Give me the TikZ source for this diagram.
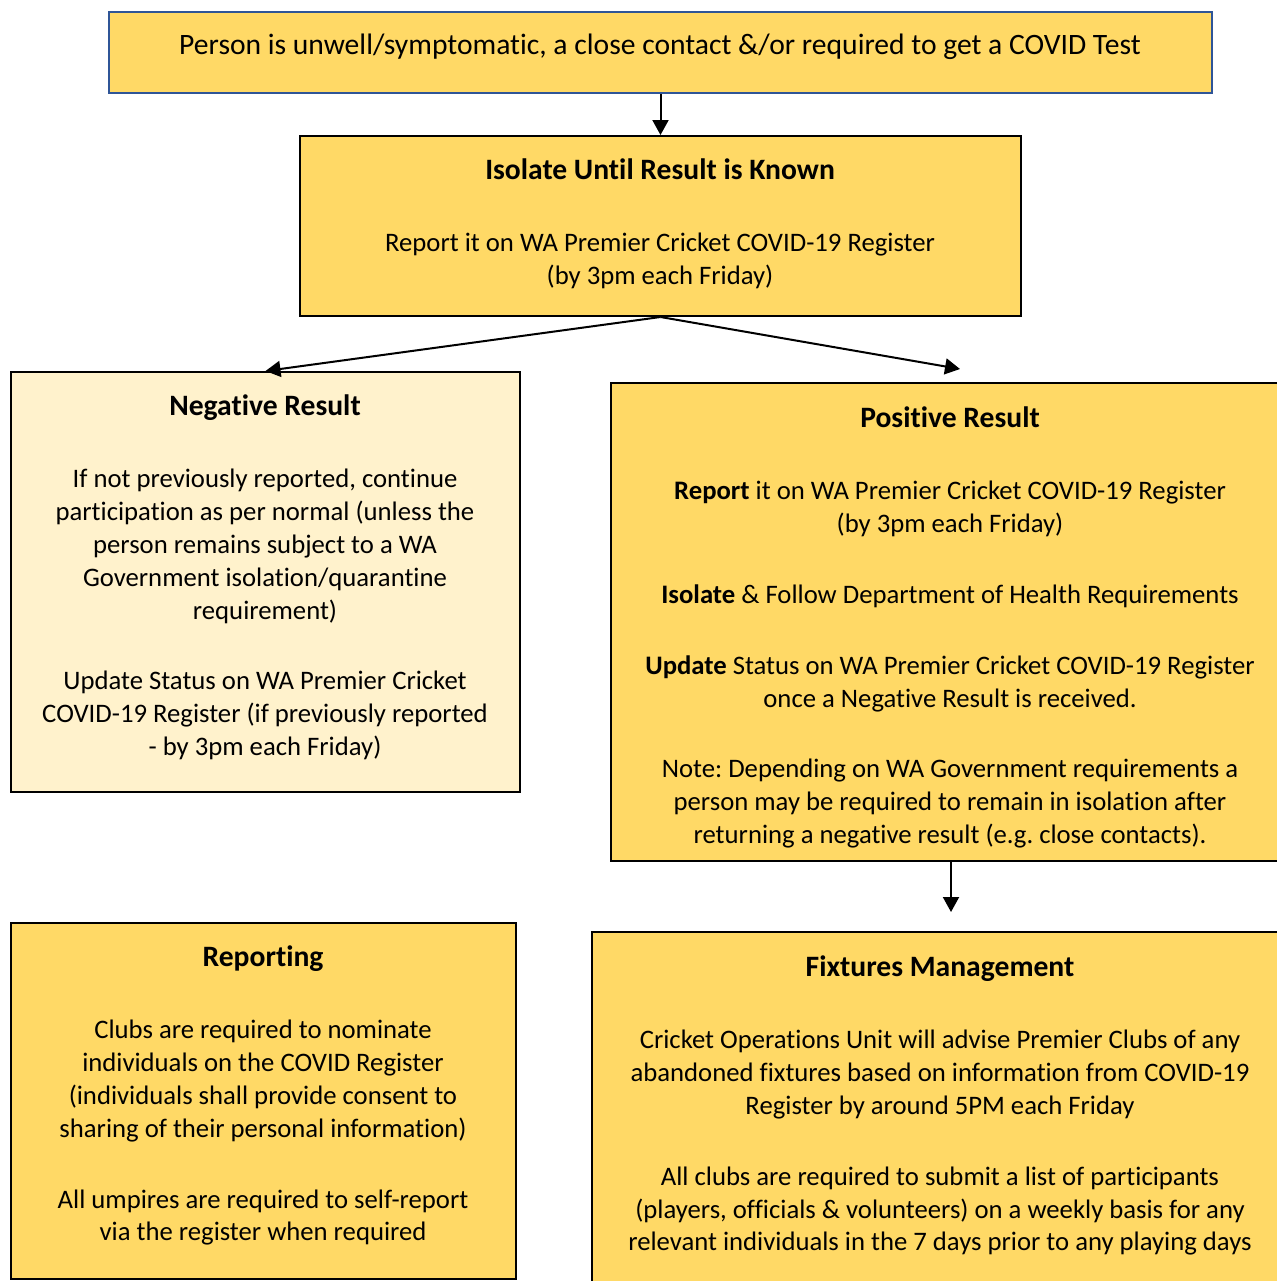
\documentclass[tikz,border=0pt]{standalone}
\usepackage{fontspec}
\setmainfont{Carlito}[Ligatures=NoCommon]
\usetikzlibrary{arrows.meta}
\definecolor{gold}{HTML}{FFD966}
\definecolor{paleGold}{HTML}{FFF2CC}
\definecolor{edgeBlue}{HTML}{2F5597}
\newcommand{\boxTitle}[1]{{\fontsize{14.8pt}{16.4pt}\selectfont\bfseries #1}}

\begin{document}
\frenchspacing
\begin{tikzpicture}[x=0.5pt,y=-0.5pt,
  box/.style={draw,line width=1pt,fill=gold,inner sep=0pt},
  txt/.style={anchor=north,align=center,inner sep=0pt,font=\fontsize{13.35pt}{16.4pt}\selectfont},
  arr/.style={-{Triangle[length=7.5pt,width=8pt]},line width=1pt}]
\clip (0,0) rectangle (1277,1281);
\fill[white] (0,0) rectangle (1277,1281);
% boxes
\draw (660.5,52.5) node[box,draw=edgeBlue,minimum width=551.5pt,minimum height=40.5pt](test) {};
\draw (660.5,226) node[box,minimum width=360.5pt,minimum height=90pt](isolate) {};
\draw (265.5,582) node[box,fill=paleGold,minimum width=254.5pt,minimum height=210pt](negative) {};
\draw (955.5,622) node[box,minimum width=344.5pt,minimum height=239pt](positive) {};
\draw (263.5,1101) node[box,minimum width=252.5pt,minimum height=178pt](reporting) {};
\draw (946,1116) node[box,minimum width=354pt,minimum height=184pt](fixtures) {};
% texts
\node[txt,font=\fontsize{14.8pt}{16.4pt}\selectfont] (testTxt) at (660,34) {Person is unwell/symptomatic, a close contact \&/or required to get a COVID Test};
\node[txt] (isolateTxt) at (660,158) {\boxTitle{Isolate Until Result is Known}\\[20pt]
Report it on WA Premier Cricket COVID-19 Register\\
(by 3pm each Friday)};
\node[txt] (negativeTxt) at (265,394) {\boxTitle{Negative Result}\\[20pt]
If not previously reported, continue\\
participation as per normal (unless the\\
person remains subject to a WA\\
Government isolation/quarantine\\
requirement)\\[19pt]
Update Status on WA Premier Cricket\\
COVID-19 Register (if previously reported\\
- by 3pm each Friday)};
\node[txt] (positiveTxt) at (950,406) {\boxTitle{Positive Result}\\[20pt]
\textbf{Report} it on WA Premier Cricket COVID-19 Register\\
(by 3pm each Friday)\\[19pt]
\textbf{Isolate} \& Follow Department of Health Requirements\\[19pt]
\textbf{Update} Status on WA Premier Cricket COVID-19 Register\\
once a Negative Result is received.\\[19pt]
Note: Depending on WA Government requirements a\\
person may be required to remain in isolation after\\
returning a negative result (e.g. close contacts).};
\node[txt] (reportingTxt) at (263,945) {\boxTitle{Reporting}\\[20pt]
Clubs are required to nominate\\
individuals on the COVID Register\\
(individuals shall provide consent to\\
sharing of their personal information)\\[19pt]
All umpires are required to self-report\\
via the register when required};
\node[txt] (fixturesTxt) at (940,955) {\boxTitle{Fixtures Management}\\[20pt]
Cricket Operations Unit will advise Premier Clubs of any\\
abandoned fixtures based on information from COVID-19\\
Register by around 5PM each Friday\\[19pt]
All clubs are required to submit a list of participants\\
(players, officials \& volunteers) on a weekly basis for any\\
relevant individuals in the 7 days prior to any playing days};
% arrows
\coordinate (posTip) at (960,369);
\coordinate (fixTip) at (951,912);
\draw[arr] (test) -- (isolate);
\draw[arr] (isolate.south) -- (negative.north);
\draw[arr] (isolate.south) -- (posTip);
\draw[arr] (positive.south -| fixTip) -- (fixTip);
\end{tikzpicture}
\end{document}
